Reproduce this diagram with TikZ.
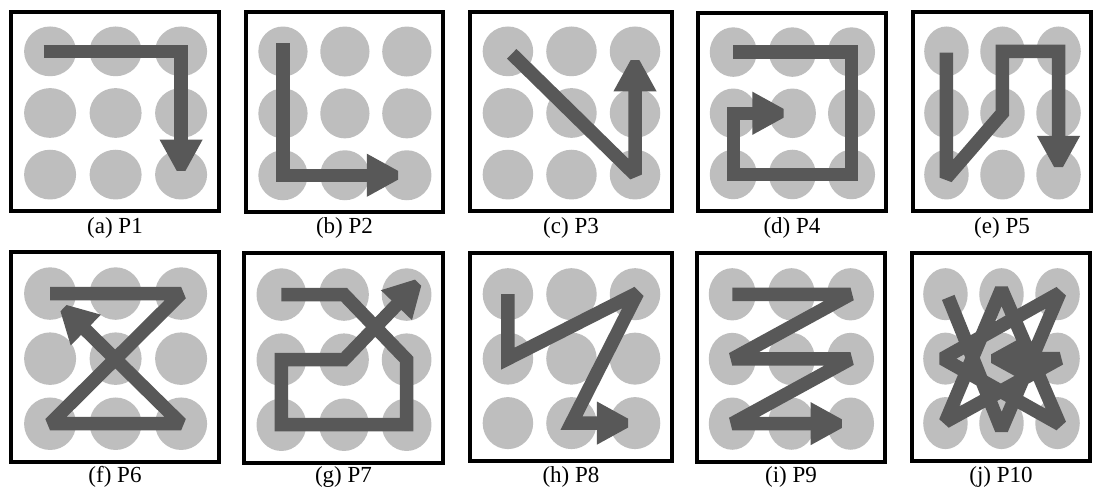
\documentclass[tikz,border=0pt]{standalone}
\usepackage{fontspec}
\setmainfont{Liberation Serif}
\usetikzlibrary{arrows.meta}
\definecolor{dotc}{RGB}{190,190,190}
\definecolor{pathc}{RGB}{88,88,88}
\tikzset{
  frame/.style={draw=black, line width=3.5pt},
  pat/.style={draw=pathc, line width=13.5pt, line join=miter, miter limit=2, line cap=butt,
    -{Triangle[width=40pt,length=40pt]}},
  lab/.style={font=\fontsize{23}{27}\selectfont, inner sep=0pt},
}
\newcommand\panelgrid[1]{%
  \foreach \c in {1,2,3}{\foreach \r in {1,2,3}{%
    \coordinate (#1-\c\r) at ({0.188+(\c-1)*0.315},{0.198+(\r-1)*0.31});
    \fill[dotc] (#1-\c\r) circle (0.125);
  }}
  \draw[frame] (0,0) rectangle (1,1);
}
\newcommand\gpt[3]{\coordinate (#1) at ({0.188+(#2-1)*0.315},{0.198+(#3-1)*0.31});}
\begin{document}
\begin{tikzpicture}[x=1pt,y=-1pt]
\useasboundingbox (0,0) rectangle (1093,497);
\fill[white] (0,0) rectangle (1093,497);

% (a) P1
\begin{scope}[shift={(11,12)},xscale=208,yscale=199]
  \panelgrid{a}
  \gpt{a-s}{0.9}{1} \gpt{a-t}{3}{3.08}
  \draw[pat] (a-s) -- (a-31) -- (a-t);
\end{scope}
\node[lab] (la) at (115,228) {(a) P1};

% (b) P2
\begin{scope}[shift={(246,12)},xscale=197,yscale=200]
  \panelgrid{b}
  \gpt{b-s}{1}{0.87}
  \draw[pat] (b-s) -- (b-13) -- (b-33);
\end{scope}
\node[lab] (lb) at (344.5,228) {(b) P2};

% (c) P3
\begin{scope}[shift={(470,12)},xscale=202,yscale=199]
  \panelgrid{c}
  \gpt{c-s}{1.06}{1.04}
  \draw[pat] (c-s) -- (c-33) -- (c-31);
\end{scope}
\node[lab] (lc) at (571,228) {(c) P3};

% (d) P4
\begin{scope}[shift={(698,13)},xscale=188,yscale=198]
  \panelgrid{d}
  \draw[pat] (d-11) -- (d-31) -- (d-33) -- (d-13) -- (d-12) -- (d-22);
\end{scope}
\node[lab] (ld) at (792,228) {(d) P4};

% (e) P5
\begin{scope}[shift={(913,12)},xscale=178,yscale=199]
  \panelgrid{e}
  \gpt{e-s}{1}{1.02} \gpt{e-v}{1}{3.05} \gpt{e-t}{3}{3.02}
  \draw[pat] (e-s) -- (e-v) -- (e-22) -- (e-21) -- (e-31) -- (e-t);
\end{scope}
\node[lab] (le) at (1002,228) {(e) P5};

% (f) P6
\begin{scope}[shift={(11,252)},xscale=208,yscale=210]
  \panelgrid{f}
  \gpt{f-t}{1.11}{1.13}
  \draw[pat] (f-11) -- (f-31) -- (f-13) -- (f-33) -- (f-t);
\end{scope}
\node[lab] (lf) at (115,477) {(f) P6};

% (g) P7
\begin{scope}[shift={(244,253)},xscale=199,yscale=210]
  \panelgrid{g}
  \gpt{g-t}{3.28}{0.72}
  \draw[pat] (g-11) -- (g-21) -- (g-32) -- (g-33) -- (g-13) -- (g-12) -- (g-22) -- (g-t);
\end{scope}
\node[lab] (lg) at (343.5,477) {(g) P7};

% (h) P8
\begin{scope}[shift={(470,253)},xscale=202,yscale=208]
  \panelgrid{h}
  \gpt{h-v}{3.04}{0.98} \gpt{h-t}{3.03}{3}
  \draw[pat] (h-11) -- (h-12) -- (h-v) -- (h-23) -- (h-t);
\end{scope}
\node[lab] (lh) at (571,477) {(h) P8};

% (i) P9
\begin{scope}[shift={(697,253)},xscale=188,yscale=209]
  \panelgrid{i}
  \draw[pat] (i-11) -- (i-31) -- (i-12) -- (i-32) -- (i-13) -- (i-33);
\end{scope}
\node[lab] (li) at (791,477) {(i) P9};

% (j) P10
\begin{scope}[shift={(912,253)},xscale=178,yscale=208]
  \panelgrid{j}
  \gpt{j-s}{1.05}{1.05} \gpt{j-t}{1.66}{2}
  \gpt{j-tm}{2}{0.92}   \gpt{j-bm}{2}{3.1}
  \gpt{j-tr}{3.04}{0.98} \gpt{j-l}{0.95}{2}
  \gpt{j-br}{3.04}{3.02} \gpt{j-bl}{1}{2.98}
  \gpt{j-r}{3.04}{2}
  \draw[pat] (j-s) -- (j-bm) -- (j-tr) -- (j-l) -- (j-br) -- (j-tm) -- (j-bl) -- (j-r) -- (j-t);
\end{scope}
\node[lab] (lj) at (1001,477) {(j) P10};
\end{tikzpicture}
\end{document}
